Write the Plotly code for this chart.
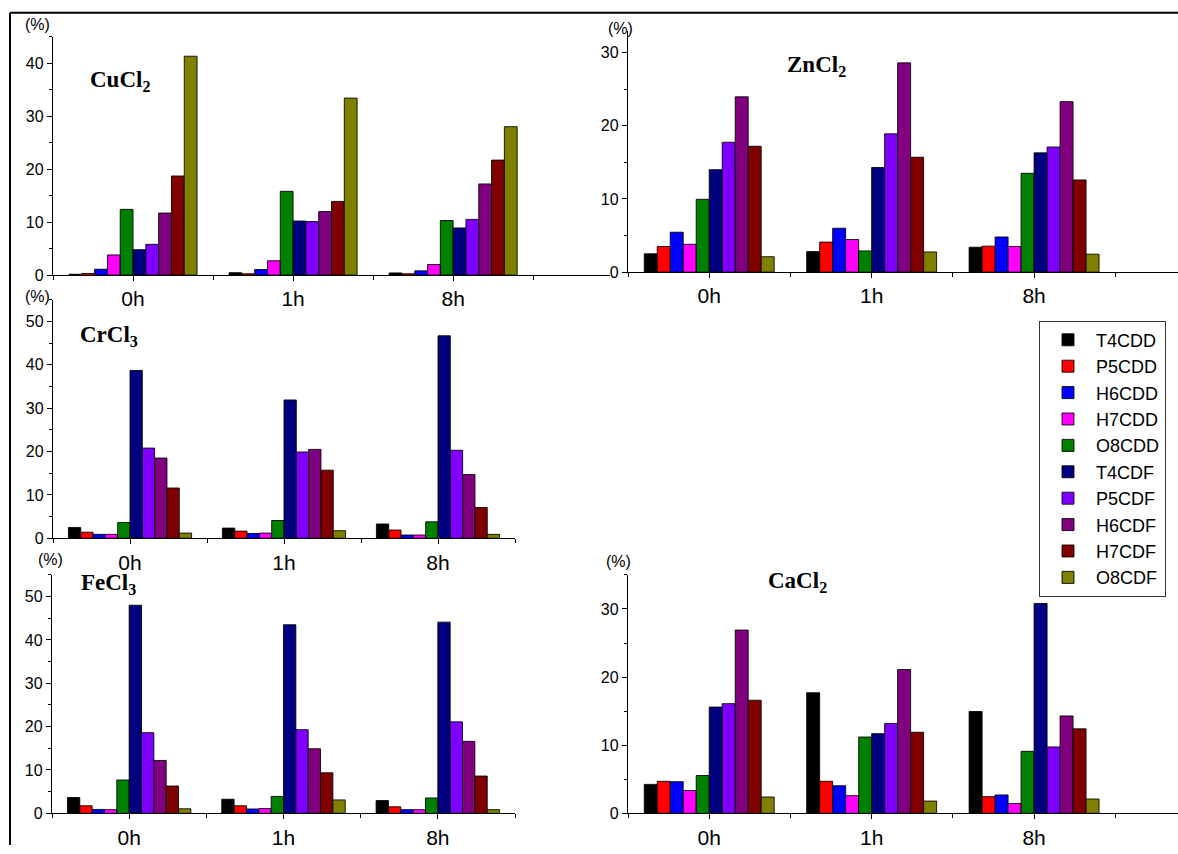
import plotly.graph_objects as go

W, H = 1178, 854

times = ['0h', '1h', '8h']
series = ['T4CDD', 'P5CDD', 'H6CDD', 'H7CDD', 'O8CDD',
          'T4CDF', 'P5CDF', 'H6CDF', 'H7CDF', 'O8CDF']
colors = ['#000000', '#FF0000', '#0000FF', '#FF00FF', '#008000',
          '#000080', '#8000FF', '#800080', '#800000', '#808000']

# values (%) per panel and time, in series order
cucl2_0h = [0.15, 0.3, 1.1, 3.8, 12.4, 4.8, 5.8, 11.7, 18.7, 41.3]
cucl2_1h = [0.45, 0.25, 1.05, 2.7, 15.8, 10.2, 10.1, 12.0, 13.9, 33.4]
cucl2_8h = [0.4, 0.25, 0.8, 2.0, 10.3, 8.9, 10.5, 17.2, 21.7, 28.0]

zncl2_0h = [2.5, 3.5, 5.45, 3.8, 9.95, 14.0, 17.75, 23.96, 17.2, 2.1]
zncl2_1h = [2.8, 4.1, 6.0, 4.45, 2.9, 14.3, 18.9, 28.6, 15.7, 2.75]
zncl2_8h = [3.4, 3.55, 4.8, 3.5, 13.5, 16.3, 17.1, 23.3, 12.6, 2.45]

crcl3_0h = [2.5, 1.4, 0.9, 0.9, 3.65, 38.7, 20.8, 18.5, 11.6, 1.2]
crcl3_1h = [2.35, 1.65, 1.1, 1.2, 4.1, 31.9, 19.9, 20.5, 15.7, 1.75]
crcl3_8h = [3.3, 1.9, 0.75, 0.75, 3.8, 46.7, 20.3, 14.7, 7.1, 0.9]

fecl3_0h = [3.65, 1.75, 0.9, 0.85, 7.7, 48.0, 18.6, 12.2, 6.3, 1.05]
fecl3_1h = [3.25, 1.75, 1.0, 1.1, 3.9, 43.5, 19.3, 14.9, 9.35, 3.1]
fecl3_8h = [2.95, 1.5, 0.85, 0.85, 3.55, 44.1, 21.1, 16.6, 8.6, 0.85]

cacl2_0h = [4.25, 4.7, 4.65, 3.35, 5.55, 15.6, 16.1, 26.9, 16.6, 2.4]
cacl2_1h = [17.7, 4.7, 4.05, 2.6, 11.2, 11.7, 13.2, 21.1, 11.9, 1.8]
cacl2_8h = [14.95, 2.45, 2.7, 1.45, 9.1, 30.8, 9.75, 14.3, 12.4, 2.1]


def fx(p):
    return p / W


def fy(p):
    return 1 - p / H


panels = [
    dict(label='CuCl<sub>2</sub>', data=[cucl2_0h, cucl2_1h, cucl2_8h],
         xd=(53, 610), yd=(37, 278), yr=[0, 45], xr=[-0.5, 2.98],
         lab=(120, 82), pct=(37, 25)),
    dict(label='ZnCl<sub>2</sub>', data=[zncl2_0h, zncl2_1h, zncl2_8h],
         xd=(628, 1178), yd=(31, 275), yr=[0, 33], xr=[-0.5, 2.886],
         lab=(816, 67), pct=(620, 29)),
    dict(label='CrCl<sub>3</sub>', data=[crcl3_0h, crcl3_1h, crcl3_8h],
         xd=(53, 515), yd=(303, 544), yr=[0, 55], xr=[-0.5, 2.5],
         lab=(109, 340), pct=(37, 300)),
    dict(label='FeCl<sub>3</sub>', data=[fecl3_0h, fecl3_1h, fecl3_8h],
         xd=(52, 515), yd=(581, 822), yr=[0, 55], xr=[-0.5, 2.5],
         lab=(108, 590), pct=(50, 565)),
    dict(label='CaCl<sub>2</sub>', data=[cacl2_0h, cacl2_1h, cacl2_8h],
         xd=(628, 1178), yd=(581, 822), yr=[0, 35], xr=[-0.5, 2.886],
         lab=(797, 588), pct=(618, 567)),
]

fig = go.Figure()
annotations = []
tickfont = dict(family='Liberation Sans, Arial', size=16, color='black')
xtickfont = dict(family='Liberation Sans, Arial', size=21, color='black')

for k, p in enumerate(panels):
    n = '' if k == 0 else str(k + 1)
    for i, s in enumerate(series):
        fig.add_trace(go.Bar(
            x=[0, 1, 2],
            y=[p['data'][t][i] for t in range(3)],
            name=s,
            legendgroup=s,
            showlegend=(k == 0),
            marker=dict(color=colors[i], line=dict(color='rgba(0,0,0,0.85)', width=1)),
            xaxis='x' + n, yaxis='y' + n,
        ))
    fig.update_layout(**{
        'xaxis' + n: dict(
            domain=[fx(p['xd'][0]), fx(p['xd'][1])], anchor='y' + n,
            range=p['xr'], tickmode='array', tickvals=[0, 1, 2], ticktext=times,
            ticks='outside', ticklen=5, tickcolor='black', tickwidth=1,
            minor=dict(tickmode='array', tickvals=[-0.5, 0.5, 1.5, 2.5],
                       ticks='outside', ticklen=4, tickcolor='black'),
            showline=True, linecolor='black', linewidth=1.3,
            showgrid=False, zeroline=False, tickfont=xtickfont,
        ),
        'yaxis' + n: dict(
            domain=[fy(p['yd'][1]), fy(p['yd'][0])], anchor='x' + n,
            range=p['yr'], dtick=10, ticks='outside', ticklen=5,
            tickcolor='black', tickwidth=1,
            minor=dict(dtick=5, ticks='outside', ticklen=3, tickcolor='black'),
            showline=True, linecolor='black', linewidth=1.3,
            showgrid=False, zeroline=False, tickfont=tickfont,
        ),
    })
    annotations.append(dict(
        text='<b>' + p['label'] + '</b>', xref='paper', yref='paper',
        x=fx(p['lab'][0]), y=fy(p['lab'][1]), showarrow=False,
        xanchor='center', yanchor='middle',
        font=dict(family='Liberation Serif, Times New Roman', size=23, color='black'),
    ))
    annotations.append(dict(
        text='(%)', xref='paper', yref='paper',
        x=fx(p['pct'][0]), y=fy(p['pct'][1]), showarrow=False,
        xanchor='center', yanchor='middle',
        font=dict(family='Liberation Sans, Arial', size=16, color='black'),
    ))

fig.update_layout(
    width=W, height=H,
    margin=dict(l=0, r=0, t=0, b=0),
    paper_bgcolor='white', plot_bgcolor='white',
    barmode='group', bargap=0.2, bargroupgap=0,
    annotations=annotations,
    legend=dict(
        x=fx(1039), y=fy(324), xanchor='left', yanchor='top',
        bgcolor='white', bordercolor='#333333', borderwidth=1,
        font=dict(family='Liberation Sans, Arial', size=18, color='black'),
        tracegroupgap=1, traceorder='normal', itemwidth=46,
        entrywidth=134, entrywidthmode='pixels',
    ),
    shapes=[
        dict(type='line', xref='paper', yref='paper',
             x0=fx(10), x1=1, y0=fy(13), y1=fy(13),
             line=dict(color='black', width=2)),
        dict(type='line', xref='paper', yref='paper',
             x0=fx(10), x1=fx(10), y0=fy(13), y1=0,
             line=dict(color='black', width=2)),
    ],
)

fig.write_html(
    'out.html',
    config={'displayModeBar': False},
    post_script="document.body.style.margin='0';document.body.style.padding='0';"
                "document.body.style.overflow='hidden';",
)
